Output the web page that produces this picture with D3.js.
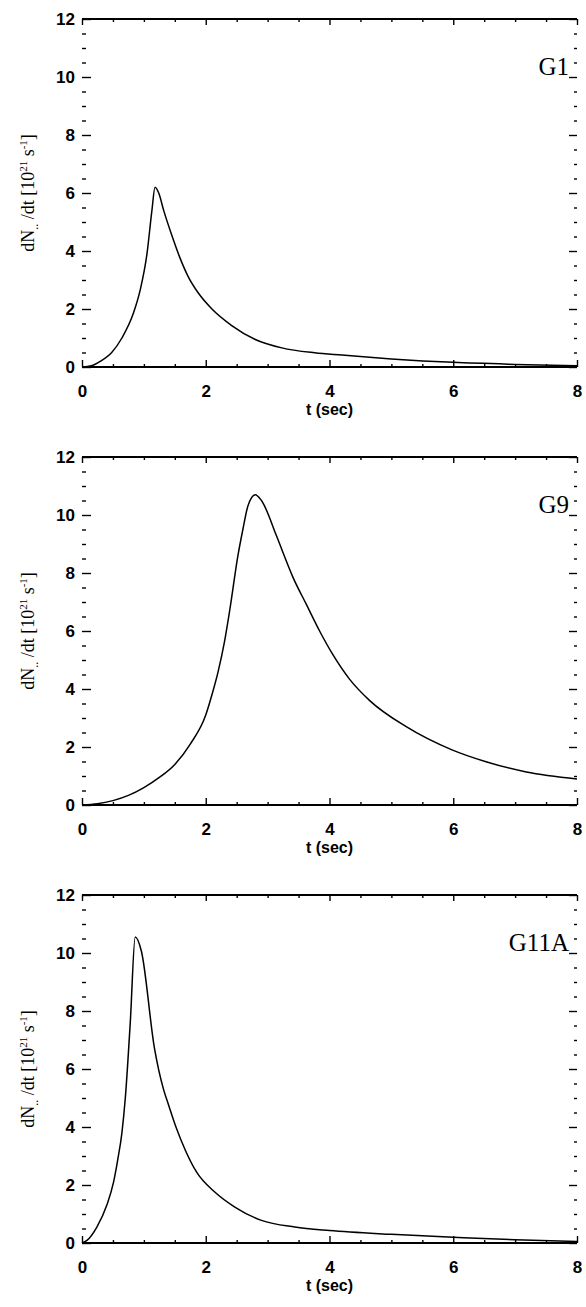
<!DOCTYPE html>
<html>
<head>
<meta charset="utf-8">
<script src="https://cdn.jsdelivr.net/npm/d3@7"></script>
<style>
  html, body { margin: 0; padding: 0; background: #fff; }
  svg { display: block; }
</style>
</head>
<body>
<svg id="chart" width="586" height="1307"></svg>
<script>
// ---- data ----
const panelNames = ["G1", "G9", "G11A"];
const xTicks = [0, 2, 4, 6, 8];
const yTicks = [0, 2, 4, 6, 8, 10, 12];
const xTickLabels = ["0", "2", "4", "6", "8"];
const yTickLabels = ["0", "2", "4", "6", "8", "10", "12"];

const tG1 = [0, 0.15, 0.3, 0.48, 0.645, 0.83, 0.94, 1.05, 1.13, 1.18, 1.24, 1.32, 1.45, 1.58, 1.72, 1.88, 2.1, 2.42, 2.8, 3.23, 3.76, 4.2, 5, 6, 7, 8];
const vG1 = [0, 0.04, 0.2, 0.5, 1.0, 1.85, 2.65, 3.9, 5.4, 6.2, 6.0, 5.4, 4.55, 3.78, 3.1, 2.55, 2.0, 1.43, 0.95, 0.66, 0.49, 0.41, 0.28, 0.16, 0.09, 0.04];

const tG9 = [0, 0.25, 0.5, 0.75, 1.0, 1.25, 1.5, 1.75, 2.0, 2.1, 2.2, 2.3, 2.39, 2.52, 2.6, 2.68, 2.8, 2.9, 3.14, 3.24, 3.41, 3.63, 3.84, 4.05, 4.32, 4.65, 5.24, 5.98, 6.53, 7.18, 8];
const vG9 = [0, 0.04, 0.15, 0.33, 0.6, 0.95, 1.4, 2.1, 3.1, 3.8, 4.6, 5.6, 6.75, 8.6, 9.5, 10.3, 10.7, 10.5, 9.3, 8.75, 7.85, 6.9, 6.0, 5.2, 4.35, 3.6, 2.7, 1.9, 1.49, 1.14, 0.9];

const tG11A = [0, 0.08, 0.24, 0.4, 0.51, 0.58, 0.645, 0.7, 0.78, 0.86, 0.96, 1.17, 1.32, 1.39, 1.52, 1.67, 1.85, 2.15, 2.47, 2.9, 3.44, 4.0, 5.0, 6.0, 7.0, 8.0];
const vG11A = [0, 0.09, 0.55, 1.3, 2.1, 2.9, 3.8, 5.0, 7.6, 10.55, 10.06, 6.73, 5.28, 4.82, 3.99, 3.2, 2.45, 1.75, 1.24, 0.78, 0.55, 0.43, 0.3, 0.2, 0.11, 0.05];

const seriesT = [tG1, tG9, tG11A];
const seriesV = [vG1, vG9, vG11A];

// ---- layout ----
const svg = d3.select("#chart");
svg.append("rect").attr("width", 586).attr("height", 1307).attr("fill", "#fff");

const left = 82, right = 577;
const panelTops = [19, 457, 895];
const panelH = 348;

const x = d3.scaleLinear().domain([0, 8]).range([left, right]);
const xMinor = d3.range(0, 8.01, 0.5).filter(v => v % 2 !== 0);
const yMinor = d3.range(0, 12.01, 0.5).filter(v => v % 2 !== 0);

const tickFont = "'Liberation Sans', Arial, sans-serif";
const serif = "'Liberation Serif', 'DejaVu Serif', serif";

panelNames.forEach((name, i) => {
  const top = panelTops[i], bot = top + panelH;
  const y = d3.scaleLinear().domain([0, 12]).range([bot, top]);
  const g = svg.append("g");

  function styleAxis(sel) {
    sel.select(".domain").remove();
    sel.selectAll("line").attr("stroke", "#000").attr("stroke-width", 1.4);
  }

  // left axis major + labels
  g.append("g").attr("transform", `translate(${left},0)`)
    .call(d3.axisLeft(y).tickValues(yTicks).tickSize(-9).tickPadding(16)
      .tickFormat((d, k) => yTickLabels[k]))
    .call(styleAxis)
    .call(s => s.selectAll("text").attr("font-family", tickFont).attr("font-size", 17)
      .attr("font-weight", 600).attr("fill", "#000").attr("text-anchor", "end")
      .attr("x", -7));
  g.append("g").attr("transform", `translate(${left},0)`)
    .call(d3.axisLeft(y).tickValues(yMinor).tickSize(-4).tickFormat(""))
    .call(styleAxis);

  // right axis ticks
  g.append("g").attr("transform", `translate(${right},0)`)
    .call(d3.axisRight(y).tickValues(yTicks).tickSize(-8).tickFormat(""))
    .call(styleAxis);
  g.append("g").attr("transform", `translate(${right},0)`)
    .call(d3.axisRight(y).tickValues(yMinor).tickSize(-3).tickFormat(""))
    .call(styleAxis);

  // bottom axis
  g.append("g").attr("transform", `translate(0,${bot})`)
    .call(d3.axisBottom(x).tickValues(xTicks).tickSize(-7).tickPadding(16)
      .tickFormat((d, k) => xTickLabels[k]))
    .call(styleAxis)
    .call(s => s.selectAll("text").attr("font-family", tickFont).attr("font-size", 17)
      .attr("font-weight", 600).attr("fill", "#000").attr("y", 18));
  g.append("g").attr("transform", `translate(0,${bot})`)
    .call(d3.axisBottom(x).tickValues(xMinor).tickSize(-3).tickFormat(""))
    .call(styleAxis);
  g.append("line").attr("x1", left).attr("x2", right).attr("y1", bot).attr("y2", bot)
    .attr("stroke", "#000").attr("stroke-width", 2);

  // top axis
  g.append("g").attr("transform", `translate(0,${top})`)
    .call(d3.axisTop(x).tickValues(xTicks).tickSize(-6).tickFormat(""))
    .call(styleAxis);
  g.append("g").attr("transform", `translate(0,${top})`)
    .call(d3.axisTop(x).tickValues(xMinor).tickSize(-3).tickFormat(""))
    .call(styleAxis);
  g.append("line").attr("x1", left).attr("x2", right).attr("y1", top).attr("y2", top)
    .attr("stroke", "#000").attr("stroke-width", 2);

  // curve
  const pts = seriesT[i].map((t, k) => [t, seriesV[i][k]]);
  const line = d3.line().x(d => x(d[0])).y(d => y(d[1])).curve(d3.curveMonotoneX);
  g.append("path").attr("d", line(pts)).attr("fill", "none")
    .attr("stroke", "#000").attr("stroke-width", 1.5);

  // panel name
  g.append("text").attr("x", 569).attr("y", top + 56).attr("text-anchor", "end")
    .attr("font-family", serif).attr("font-size", 25).attr("fill", "#000").text(name);

  // x label
  g.append("text").attr("x", x(4)).attr("y", bot + 48).attr("text-anchor", "middle")
    .attr("font-family", tickFont).attr("font-size", 16).attr("font-weight", 600)
    .attr("fill", "#000").text("t (sec)");

  // y label
  const cy = (top + bot) / 2;
  const yl = g.append("text").attr("transform", `translate(34,${cy}) rotate(-90)`)
    .attr("text-anchor", "middle").attr("font-family", serif).attr("font-size", 18)
    .attr("fill", "#000");
  yl.append("tspan").text("dN");
  yl.append("tspan").attr("font-size", 12).attr("dy", 4).text("..");
  yl.append("tspan").attr("dy", -4).text(" /dt [10");
  yl.append("tspan").attr("font-size", 11).attr("dy", -7).text("21");
  yl.append("tspan").attr("dy", 7).text(" s");
  yl.append("tspan").attr("font-size", 11).attr("dy", -7).text("-1");
  yl.append("tspan").attr("dy", 7).text("]");
});
</script>
</body>
</html>
